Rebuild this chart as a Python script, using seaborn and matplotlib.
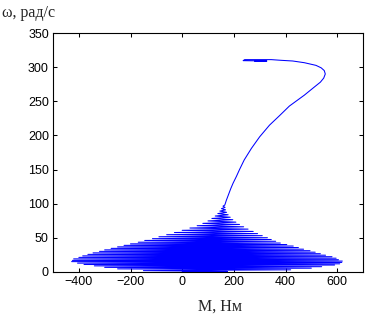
import numpy as np
import pandas as pd
import matplotlib
matplotlib.use("Agg")
import matplotlib.pyplot as plt
import seaborn as sns

# Start-up transient: turning points of the torque oscillation (M, Nm / omega, rad/s)
torque_osc = [0, 175, -150, 420, -250, 500, -300, 540, -340, 590, -380, 610, -405, 618,
              -428, 620, -425, 605, -420, 596, -400, 580, -385, 555, -365, 535, -345, 515,
              -320, 495, -300, 470, -275, 450, -250, 430, -225, 405, -200, 380, -170, 362,
              -145, 345, -115, 330, -90, 310, -60, 292, -30, 275, 0, 255, 30, 238, 58, 222,
              80, 208, 100, 196, 115, 186, 128, 178, 138, 172, 146, 168, 152, 166, 158]
speed_osc = [0, 0.8, 2.0, 3.2, 4.6, 5.6, 6.8, 7.8, 9.0, 10.2, 11.0, 12.0, 13.0, 14.0,
             15.2, 16.0, 17.0, 18.0, 19.2, 20.2, 21.4, 22.4, 23.6, 24.6, 25.8, 26.8, 28.0, 29.0,
             30.2, 31.2, 32.4, 33.4, 34.6, 35.8, 36.8, 38.0, 39.0, 40.2, 41.2, 42.4, 43.6, 45.0,
             46.2, 47.6, 48.8, 50.2, 51.6, 53.2, 54.6, 56.2, 57.8, 59.4, 61.0, 62.8, 64.4, 66.2, 67.8, 69.6,
             71.2, 73.0, 74.8, 76.6, 78.4, 80.2, 82.0, 83.8, 85.6, 87.4, 89.2, 91.0, 92.8, 94.6, 96.4]

# Run-up to synchronous speed and settling
torque_run = [165, 171, 178, 188, 197, 210, 222, 240, 268, 300, 338, 377, 415, 473, 512,
              535, 548, 554, 550, 538, 518, 473, 428, 383, 345, 242, 236, 328, 281, 305, 285, 298, 290]
speed_run = [98, 105, 112, 122, 130, 140, 150, 164, 181, 198, 215, 229, 243, 259, 271,
             278, 284, 290, 295, 299, 302.6, 306.5, 309, 310, 311, 311, 309.5, 309, 308.7, 309.6, 309.2, 309.4, 309.3]

df = pd.DataFrame({"M": torque_osc + torque_run, "w": speed_osc + speed_run})

sns.set_style("ticks")
plt.rcParams["font.family"] = ["Liberation Sans", "DejaVu Sans"]

fig = plt.figure(figsize=(3.8, 3.24), dpi=100)
ax = fig.add_axes([53 / 380, 52 / 324, 310 / 380, 239 / 324])

sns.lineplot(data=df, x="M", y="w", sort=False, estimator=None, color="blue",
             lw=0.75, ax=ax)

ax.set_xlim(-500, 700)
ax.set_ylim(0, 350)
ax.set_xticks([-400, -200, 0, 200, 400, 600])
ax.set_yticks([0, 50, 100, 150, 200, 250, 300, 350])
ax.tick_params(direction="in", top=True, right=True, length=3, width=0.75,
               labelsize=9, colors="black", pad=3)
for s in ax.spines.values():
    s.set_visible(True)
    s.set_linewidth(0.8)
    s.set_color("black")
ax.set_xlabel("")
ax.set_ylabel("")

fig.text(220 / 380, 1 - 307 / 324, "M, Нм", ha="center", va="center",
         fontsize=11.5, family=["Liberation Serif", "DejaVu Serif"])
fig.text(2 / 380, 1 - 13 / 324, "ω, рад/с", ha="left", va="center",
         fontsize=11.5, family=["Liberation Serif", "DejaVu Serif"])

fig.savefig("out.png", dpi=100)
